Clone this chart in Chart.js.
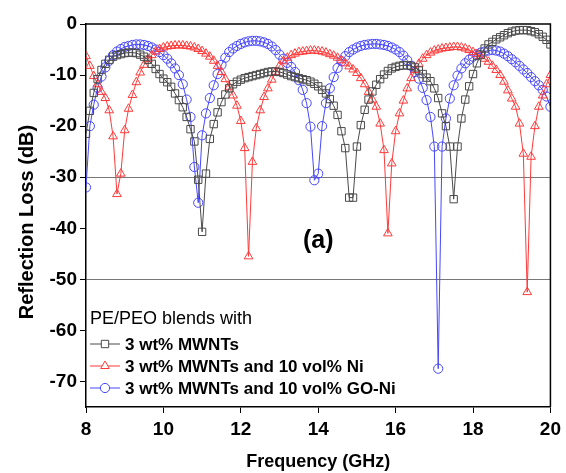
<!DOCTYPE html>
<html>
<head>
<meta charset="utf-8">
<script src="https://cdn.jsdelivr.net/npm/chart.js@4.4.0/dist/chart.umd.min.js"></script>
<style>
  html, body { margin: 0; padding: 0; background: #fff; }
</style>
</head>
<body>
<canvas id="myChart" width="566" height="473"></canvas>
<script>
// frequency points (GHz)
const freq = [
  8.0, 8.1, 8.2, 8.3, 8.4, 8.5, 8.6, 8.7, 8.8, 8.9,
  9.0, 9.1, 9.2, 9.3, 9.4, 9.5, 9.6, 9.7, 9.8, 9.9,
  10.0, 10.1, 10.2, 10.3, 10.4, 10.5, 10.6, 10.7, 10.8, 10.9,
  11.0, 11.1, 11.2, 11.3, 11.4, 11.5, 11.6, 11.7, 11.8, 11.9,
  12.0, 12.1, 12.2, 12.3, 12.4, 12.5, 12.6, 12.7, 12.8, 12.9,
  13.0, 13.1, 13.2, 13.3, 13.4, 13.5, 13.6, 13.7, 13.8, 13.9,
  14.0, 14.1, 14.2, 14.3, 14.4, 14.5, 14.6, 14.7, 14.8, 14.9,
  15.0, 15.1, 15.2, 15.3, 15.4, 15.5, 15.6, 15.7, 15.8, 15.9,
  16.0, 16.1, 16.2, 16.3, 16.4, 16.5, 16.6, 16.7, 16.8, 16.9,
  17.0, 17.1, 17.2, 17.3, 17.4, 17.5, 17.6, 17.7, 17.8, 17.9,
  18.0, 18.1, 18.2, 18.3, 18.4, 18.5, 18.6, 18.7, 18.8, 18.9,
  19.0, 19.1, 19.2, 19.3, 19.4, 19.5, 19.6, 19.7, 19.8, 19.9,
  20.0
];

// 3 wt% MWNTs
const rlMwnt = [
  -21.5, -17, -13.5, -10.8, -9, -7.8, -7, -6.4, -6.1, -5.9,
  -5.7, -5.6, -5.6, -5.7, -6, -6.4, -7, -7.8, -8.8, -9.8,
  -10.7, -11.4, -12.3, -13.6, -14.9, -16.3, -18.2, -20.6, -23, -30.5,
  -40.7, -29.3, -22.5, -19.6, -17.3, -15.3, -13.8, -12.6, -11.8, -11.3,
  -10.9, -10.6, -10.4, -10.2, -10, -9.8, -9.6, -9.4, -9.3, -9.3,
  -9.4, -9.6, -9.9, -10.2, -10.4, -10.6, -10.8, -11, -11.3, -11.7,
  -12.2, -12.9, -13.6, -14.7, -16, -17.8, -21, -24.3, -34, -34,
  -24, -19.8, -16.8, -14.8, -13.2, -11.9, -10.8, -9.9, -9.2, -8.7,
  -8.4, -8.2, -8.1, -8.1, -8.2, -8.5, -9.1, -9.8, -10.5, -11.2,
  -12.6, -14.5, -17.5, -20, -24, -34.3, -24, -18.5, -14.8, -12.2,
  -9.8, -7.7, -6, -4.8, -4, -3.5, -3, -2.6, -2.2, -1.8,
  -1.5, -1.3, -1.2, -1.2, -1.2, -1.4, -1.6, -2, -2.5, -3.1,
  -4
];

// 3 wt% MWNTs and 10 vol% Ni
const rlNi = [
  -6.3, -8.2, -10.2, -11.8, -13.3, -14.5, -16.9, -22, -33.3, -29.3,
  -20.8, -16.6, -13.9, -11.4, -9.5, -8, -6.9, -6.1, -5.4, -4.9,
  -4.6, -4.4, -4.3, -4.2, -4.2, -4.2, -4.3, -4.4, -4.6, -4.9,
  -5.3, -5.8, -6.4, -7.2, -8.2, -9.4, -10.8, -12.3, -14, -16,
  -19, -24.3, -45.5, -27, -20.4, -16.9, -14.3, -12.6, -10.9, -9.4,
  -8.2, -7.3, -6.6, -6.1, -5.8, -5.5, -5.4, -5.3, -5.2, -5.2,
  -5.3, -5.4, -5.6, -5.9, -6.2, -6.6, -7.1, -7.7, -8.3, -8.9,
  -9.6, -10.6, -11.8, -13.3, -14.8, -16.2, -19.5, -24.7, -41, -27.3,
  -21, -17.5, -15, -12.6, -10.6, -9, -7.8, -6.8, -6.1, -5.6,
  -5.2, -5, -4.8, -4.7, -4.6, -4.5, -4.5, -4.6, -4.8, -5.1,
  -5.5, -5.9, -6.3, -6.8, -7.4, -8.2, -9, -10, -11.3, -13,
  -14.6, -16.2, -19.5, -25.4, -52.5, -26, -20, -16.2, -14, -11.8,
  -10
];

// 3 wt% MWNTs and 10 vol% GO-Ni
const rlGoNi = [
  -32, -20, -15.8, -12.5, -10.3, -8.5, -7.2, -6.1, -5.4, -4.9,
  -4.5, -4.3, -4.1, -4, -4, -4.1, -4.3, -4.6, -5, -5.5,
  -6.1, -6.8, -7.7, -8.7, -10, -11.8, -14.8, -18.2, -28, -35,
  -21.8, -17.5, -14.5, -12, -9.8, -8, -6.6, -5.5, -4.8, -4.3,
  -3.9, -3.6, -3.4, -3.3, -3.3, -3.4, -3.6, -3.9, -4.4, -5.1,
  -6, -6.8, -7.6, -8.4, -9.4, -11, -12.9, -15.5, -20.1, -30.6,
  -29.3, -20, -15.5, -12.6, -10.4, -8.6, -7.3, -6.3, -5.5, -5,
  -4.6, -4.3, -4.1, -4, -3.9, -3.9, -4, -4.1, -4.3, -4.6,
  -5, -5.5, -6.2, -7.1, -8.2, -9.4, -10.7, -12.5, -14.9, -18.2,
  -24, -67.5, -24, -18.5, -14.6, -12, -10.1, -8.7, -7.7, -7,
  -6.4, -5.9, -5.6, -5.4, -5.2, -5.1, -5.2, -5.4, -5.8, -6.3,
  -6.9, -7.5, -8.2, -8.9, -9.6, -10.4, -11.2, -12, -12.9, -14.2,
  -16.2
];

const seriesNames = ['3 wt% MWNTs', '3 wt% MWNTs and 10 vol% Ni', '3 wt% MWNTs and 10 vol% GO-Ni'];
const legendTitle = 'PE/PEO blends with';
const xTicks = [8, 10, 12, 14, 16, 18, 20];
const yTicks = [0, -10, -20, -30, -40, -50, -60, -70];
const refLines = [-30, -50];
const panelLabel = '(a)';

const FONT = '"Liberation Sans", Arial, sans-serif';

function toPoints(ys) {
  return freq.map((f, i) => ({ x: f, y: ys[i] }));
}

function makeSet(label, ys, color, style, radius) {
  return {
    label: label,
    data: toPoints(ys),
    borderColor: color,
    backgroundColor: 'rgba(0,0,0,0)',
    borderWidth: 1,
    pointStyle: style,
    pointRadius: radius,
    pointBorderWidth: 1,
    pointBorderColor: color,
    pointBackgroundColor: 'rgba(0,0,0,0)',
    tension: 0,
    fill: false
  };
}

// frame, panel label, legend and y title
const decorations = {
  id: 'decorations',
  afterDraw(chart) {
    const ctx = chart.ctx;
    const area = chart.chartArea;
    const xs = chart.scales.x, ys = chart.scales.y;
    ctx.save();
    ctx.strokeStyle = '#000';
    ctx.lineWidth = 1.5;
    ctx.beginPath();
    ctx.moveTo(area.left, area.top);
    ctx.lineTo(area.right, area.top);
    ctx.lineTo(area.right, area.bottom);
    ctx.stroke();

    ctx.fillStyle = '#000';
    ctx.font = 'bold 25px ' + FONT;
    ctx.textAlign = 'center';
    ctx.textBaseline = 'middle';
    ctx.fillText(panelLabel, xs.getPixelForValue(14.0), ys.getPixelForValue(-42.5));

    // legend
    ctx.textAlign = 'left';
    ctx.font = '18px ' + FONT;
    ctx.fillText(legendTitle, area.left + 4, area.bottom - 88);
    ctx.font = 'bold 17px ' + FONT;
    chart.data.datasets.forEach((ds, i) => {
      const y = area.bottom - 63 + i * 22;
      ctx.strokeStyle = ds.borderColor;
      ctx.lineWidth = 1;
      ctx.beginPath();
      ctx.moveTo(area.left + 4, y);
      ctx.lineTo(area.left + 34, y);
      ctx.stroke();
      ctx.fillStyle = '#fff';
      Chart.helpers.drawPoint(ctx, {
        pointStyle: ds.pointStyle, radius: ds.pointRadius, borderWidth: 1, rotation: 0
      }, area.left + 19, y);
      ctx.fillStyle = '#000';
      ctx.fillText(ds.label, area.left + 39, y + 1);
    });

    // y title
    ctx.translate(27, 222);
    ctx.rotate(-Math.PI / 2);
    ctx.textAlign = 'center';
    ctx.font = 'bold 20px ' + FONT;
    ctx.fillText('Reflection Loss (dB)', 0, 0);
    ctx.restore();
  }
};

const ctx = document.getElementById('myChart');
const myChart = new Chart(ctx, {
  type: 'line',
  data: {
    datasets: [
      makeSet(seriesNames[0], rlMwnt, '#4a4a4a', 'rect', 5.2),
      makeSet(seriesNames[1], rlNi, '#ff3a3a', 'triangle', 5),
      makeSet(seriesNames[2], rlGoNi, '#4646ff', 'circle', 4.6)
    ]
  },
  options: {
    responsive: false,
    animation: false,
    layout: { padding: { left: 0, right: 12, top: 24, bottom: 0 } },
    plugins: {
      legend: { display: false },
      tooltip: { enabled: false }
    },
    scales: {
      x: {
        type: 'linear',
        min: 8,
        max: 20,
        afterBuildTicks: (scale) => { scale.ticks = xTicks.map(v => ({ value: v })); },
        afterFit: (scale) => { scale.height = 66; },
        border: { display: true, color: '#000', width: 1.5 },
        grid: { drawOnChartArea: false, drawTicks: true, tickLength: 6, tickColor: '#000' },
        ticks: { color: '#000', font: { family: FONT, size: 19, weight: 'bold' }, padding: 5, maxRotation: 0 },
        title: {
          display: true,
          text: 'Frequency (GHz)',
          color: '#000',
          font: { family: FONT, size: 18, weight: 'bold' },
          padding: { top: 4, bottom: 0 }
        }
      },
      y: {
        min: -75,
        max: 0,
        afterBuildTicks: (scale) => { scale.ticks = yTicks.map(v => ({ value: v })); },
        afterFit: (scale) => { scale.width = 86; },
        border: { display: true, color: '#000', width: 1.5 },
        grid: {
          color: (c) => (c.tick && refLines.includes(c.tick.value)) ? '#777' : 'rgba(0,0,0,0)',
          lineWidth: 1,
          drawTicks: true,
          tickLength: 6,
          tickColor: '#000'
        },
        ticks: { color: '#000', font: { family: FONT, size: 19, weight: 'bold' }, padding: 3 }
      }
    }
  },
  plugins: [decorations]
});
</script>
</body>
</html>
